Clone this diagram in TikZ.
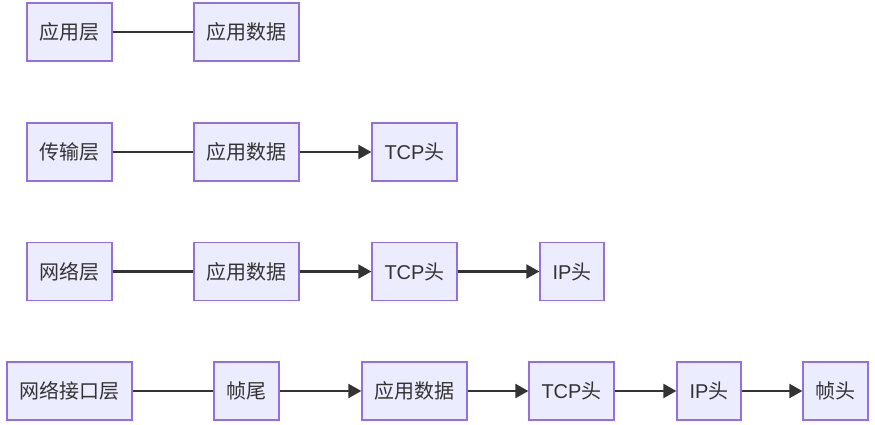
\documentclass[tikz,border=0pt]{standalone}
\usepackage{fontspec}
\setmainfont{Liberation Sans}
\newfontfamily\cjk{Noto Sans CJK SC}
\usetikzlibrary{arrows.meta}
\definecolor{boxfill}{HTML}{ECECFF}
\definecolor{boxline}{HTML}{9370DB}
\definecolor{ink}{HTML}{333333}
\tikzset{
  box/.style={draw=boxline, fill=boxfill, line width=1.3pt, inner sep=0pt,
    minimum height=58pt, text=ink, font=\fontsize{20}{23}\selectfont},
  link/.style={draw=ink, line width=2.2pt},
  arr/.style={link, -{Triangle[length=13pt,width=14pt]}},
}
\begin{document}
\begin{tikzpicture}[x=1pt,y=-1pt]
\useasboundingbox (0,0) rectangle (875,425);
% row 1
\node[box, minimum width=85pt]  (a1) at (69.5,32) {\cjk 应用层};
\node[box, minimum width=105pt] (d1) at (246.5,32) {\cjk 应用数据};
% row 2
\node[box, minimum width=85pt]  (a2) at (69.5,152) {\cjk 传输层};
\node[box, minimum width=105pt] (d2) at (246.5,152) {\cjk 应用数据};
\node[box, minimum width=85pt]  (t2) at (414.5,152) {TCP{\cjk 头}};
% row 3
\node[box, minimum width=85pt]  (a3) at (69.5,271.5) {\cjk 网络层};
\node[box, minimum width=105pt] (d3) at (246.5,271.5) {\cjk 应用数据};
\node[box, minimum width=85pt]  (t3) at (414.5,271.5) {TCP{\cjk 头}};
\node[box, minimum width=64pt]  (i3) at (572,271.5) {IP{\cjk 头}};
% row 4
\node[box, minimum width=125pt] (a4) at (69.5,391) {\cjk 网络接口层};
\node[box, minimum width=65pt]  (f4) at (246.5,391) {\cjk 帧尾};
\node[box, minimum width=105pt] (d4) at (414.5,391) {\cjk 应用数据};
\node[box, minimum width=85pt]  (t4) at (571.5,391) {TCP{\cjk 头}};
\node[box, minimum width=64pt]  (i4) at (709,391) {IP{\cjk 头}};
\node[box, minimum width=65pt]  (h4) at (835.5,391) {\cjk 帧头};
% connectors
\draw[link] (a1) -- (d1);
\draw[link] (a2) -- (d2);
\draw[arr] (d2) -- (t2);
\draw[link] (a3) -- (d3);
\draw[arr] (d3) -- (t3);
\draw[arr] (t3) -- (i3);
\draw[link] (a4) -- (f4);
\draw[arr] (f4) -- (d4);
\draw[arr] (d4) -- (t4);
\draw[arr] (t4) -- (i4);
\draw[arr] (i4) -- (h4);
\end{tikzpicture}
\end{document}
